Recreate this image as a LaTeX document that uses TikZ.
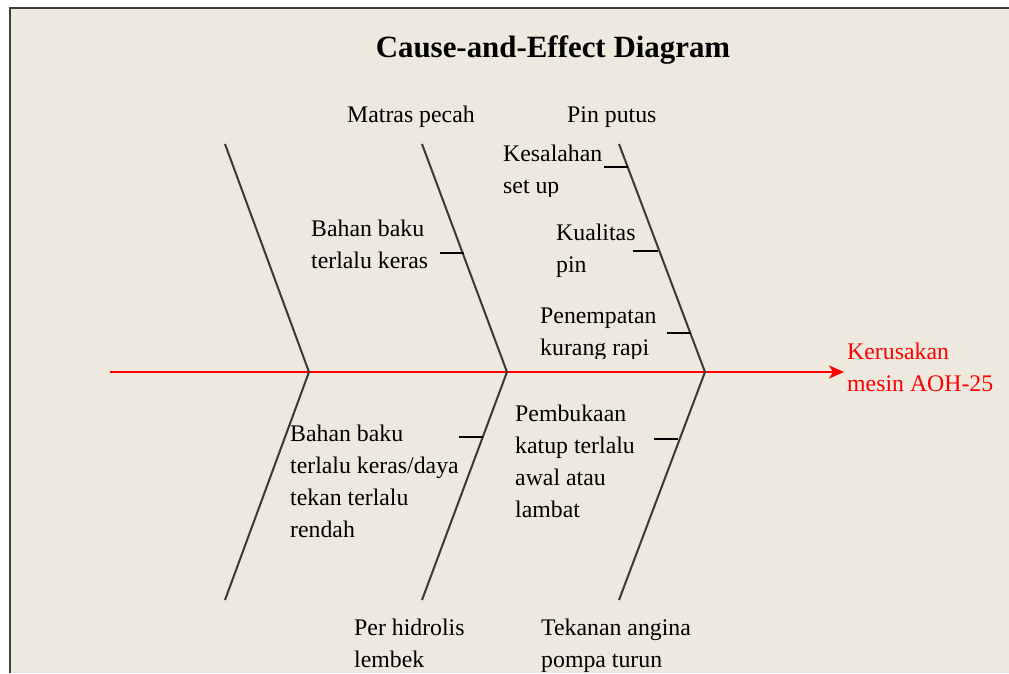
\documentclass[tikz,border=0pt]{standalone}
\usepackage{fontspec}
\setmainfont{Liberation Serif}
\usetikzlibrary{arrows.meta}
\definecolor{bg}{HTML}{EDE9DF}
\definecolor{bonecol}{HTML}{3A3A3A}
\definecolor{framecol}{HTML}{404040}
\begin{document}
\begin{tikzpicture}[x=1pt,y=-1pt,
  lbl/.style={anchor=base west, inner sep=0pt, font=\fontsize{23.8}{31.7}\selectfont, align=left},
  bonestyle/.style={draw=bonecol, line width=2pt, line join=miter},
  tick/.style={draw=black, line width=2pt},
  spine/.style={draw=red, line width=2pt, -{Stealth[length=15pt,width=13pt,inset=4pt]}}]
\useasboundingbox (0,0) rectangle (1009,673);
\fill[white] (0,0) rectangle (1009,673);
\fill[bg] (10,8) rectangle (1009,673);
\draw[framecol, line width=2.5pt] (10,673) -- (10,8) -- (1009,8);
% title
\node[anchor=base, inner sep=0pt, font=\fontsize{30.9}{36}\selectfont\bfseries] (title) at (553,57) {Cause-and-Effect Diagram};
% spine
\coordinate (tail) at (110,372);
\node[lbl, text=red] (effect) at (847,391) {Kerusakan\\mesin AOH-25};
\coordinate (head) at (844,372);
\draw[spine] (tail) -- (head);
% bones
\coordinate (b1t) at (225,144); \coordinate (b1v) at (309,372); \coordinate (b1b) at (225,600);
\coordinate (b2t) at (422,144); \coordinate (b2v) at (507,372); \coordinate (b2b) at (422,600);
\coordinate (b3t) at (619,144); \coordinate (b3v) at (705,372); \coordinate (b3b) at (619,600);
\draw[bonestyle] (b1t) -- (b1v) -- (b1b);
\draw[bonestyle] (b2t) -- (b2v) -- (b2b);
\draw[bonestyle] (b3t) -- (b3v) -- (b3b);
% category labels
\node[lbl] (matras) at (347,122) {Matras pecah};
\node[lbl] (pin) at (567,122) {Pin putus};
\node[lbl] (perhid) at (354,667) {Per hidrolis\\lembek};
\node[lbl] (tekanan) at (541,667) {Tekanan angina\\pompa turun};
% causes
\begin{scope}
\clip (495,130) rectangle (610,196);
\node[lbl] (kesalahan) at (503,193) {Kesalahan\\set up};
\end{scope}
\node[lbl] (kualitas) at (556,272) {Kualitas\\pin};
\begin{scope}
\clip (530,295) rectangle (665,358);
\node[lbl] (penempatan) at (540,355) {Penempatan\\kurang rapi};
\end{scope}
\node[lbl] (bahan1) at (311,268) {Bahan baku\\terlalu keras};
\node[lbl] (bahan2) at (290,537) {Bahan baku\\terlalu keras/daya\\tekan terlalu\\rendah};
\node[lbl] (pembukaan) at (515,517) {Pembukaan\\katup terlalu\\awal atau\\lambat};
% ticks
\coordinate (t1a) at (604,167); \coordinate (t1b) at (628,167);
\coordinate (t2a) at (633,251); \coordinate (t2b) at (658,251);
\coordinate (t3a) at (667,333); \coordinate (t3b) at (691,333);
\coordinate (t4a) at (440,253); \coordinate (t4b) at (464,253);
\coordinate (t5a) at (459,437); \coordinate (t5b) at (483,437);
\coordinate (t6a) at (654,439); \coordinate (t6b) at (678,439);
\draw[tick] (t1a) -- (t1b);
\draw[tick] (t2a) -- (t2b);
\draw[tick] (t3a) -- (t3b);
\draw[tick] (t4a) -- (t4b);
\draw[tick] (t5a) -- (t5b);
\draw[tick] (t6a) -- (t6b);
\end{tikzpicture}
\end{document}
